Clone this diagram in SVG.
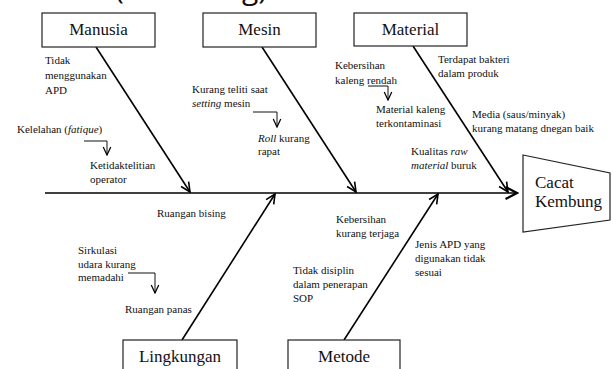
<svg xmlns="http://www.w3.org/2000/svg" width="613" height="369" viewBox="0 0 613 369">
<style>
.box{fill:#fff;stroke:#222;stroke-width:1.2}
.bl{font-size:17px;fill:#111}
.mid{text-anchor:middle}
.t{font-size:11px;fill:#111}
.bone{stroke:#000;stroke-width:1.6;fill:none}
.sm{stroke:#111;stroke-width:1;fill:none}
.serif{font-family:'Liberation Serif','Noto Serif','DejaVu Serif',Tinos,FreeSerif,'Times New Roman',Times,serif}
</style>
<defs>
<marker id="ah" markerUnits="userSpaceOnUse" viewBox="0 0 12 12" markerWidth="12" markerHeight="12" refX="10.5" refY="6" orient="auto">
<path d="M1,1.5 L10.5,6 L1,10.5" fill="none" stroke="#000" stroke-width="1.6"/>
</marker>
<marker id="ahs" markerUnits="userSpaceOnUse" viewBox="0 0 12 12" markerWidth="10" markerHeight="10" refX="10.5" refY="6" orient="auto">
<path d="M1,1.5 L10.5,6 L1,10.5" fill="none" stroke="#000" stroke-width="1.5"/>
</marker>
<marker id="ahb" markerUnits="userSpaceOnUse" viewBox="0 0 14 14" markerWidth="14" markerHeight="14" refX="12.5" refY="7" orient="auto">
<path d="M1,1 L12.5,7 L1,13" fill="none" stroke="#000" stroke-width="2.2"/>
</marker>
</defs>

<text x="115" y="-1" font-family="'Open Sans', sans-serif" font-size="30" fill="#111">(Kembung)</text>

<g id="connectors">
<line class="bone" x1="45" y1="193" x2="517" y2="193" stroke-width="2.4" marker-end="url(#ahb)"/>
<line class="bone" x1="96" y1="47" x2="190" y2="192" marker-end="url(#ah)"/>
<line class="bone" x1="262" y1="47" x2="356" y2="192" marker-end="url(#ah)"/>
<line class="bone" x1="413" y1="46" x2="508" y2="192" marker-end="url(#ah)"/>
<line class="bone" x1="182" y1="340" x2="275" y2="194" marker-end="url(#ah)"/>
<line class="bone" x1="344" y1="340" x2="438" y2="194" marker-end="url(#ah)"/>
<path class="sm" d="M84,141 H107 V155" marker-end="url(#ahs)"/>
<path class="sm" d="M253,112 H277 V127" marker-end="url(#ahs)"/>
<path class="sm" d="M368,86 H388 V100" marker-end="url(#ahs)"/>
<path class="sm" d="M128,273 H155 V293" marker-end="url(#ahs)"/>
</g>

<g class="serif">
<g id="manusia">
<rect class="box" x="42" y="13" width="113" height="34"/>
<text class="bl mid serif" x="98.5" y="35">Manusia</text>
</g>
<g id="mesin">
<rect class="box" x="203" y="13" width="113" height="34"/>
<text class="bl mid serif" x="259.5" y="35">Mesin</text>
</g>
<g id="material">
<rect class="box" x="354" y="13" width="113" height="33"/>
<text class="bl mid serif" x="410.5" y="35">Material</text>
</g>
<g id="lingkungan">
<rect class="box" x="123" y="340" width="114" height="36"/>
<text class="bl mid serif" x="180" y="362">Lingkungan</text>
</g>
<g id="metode">
<rect class="box" x="288" y="340" width="112" height="36"/>
<text class="bl mid serif" x="344" y="362">Metode</text>
</g>
<g id="cacat-kembung">
<path class="box" d="M523,155 L610,173 L610,220 L523,232 Z"/>
<text class="bl serif" x="535" y="188">Cacat</text>
<text class="bl serif" x="535" y="207">Kembung</text>
</g>

<g id="causes" class="serif">
<text class="t" x="45" y="64">Tidak</text>
<text class="t" x="45" y="79">menggunakan</text>
<text class="t" x="45" y="94">APD</text>
<text class="t" x="17" y="133">Kelelahan (<tspan font-style="italic">fatique</tspan>)</text>
<text class="t" x="90" y="169">Ketidaktelitian</text>
<text class="t" x="90" y="183">operator</text>
<text class="t" x="157" y="217">Ruangan bising</text>
<text class="t" x="192" y="93">Kurang teliti saat</text>
<text class="t" x="192" y="107"><tspan font-style="italic">setting</tspan> mesin</text>
<text class="t" x="258" y="142"><tspan font-style="italic">Roll</tspan> kurang</text>
<text class="t" x="258" y="155">rapat</text>
<text class="t" x="335" y="69">Kebersihan</text>
<text class="t" x="335" y="84">kaleng rendah</text>
<text class="t" x="376" y="113">Material kaleng</text>
<text class="t" x="376" y="127">terkontaminasi</text>
<text class="t" x="438" y="63">Terdapat bakteri</text>
<text class="t" x="438" y="77">dalam produk</text>
<text class="t" x="472" y="118">Media (saus/minyak)</text>
<text class="t" x="472" y="132">kurang matang dnegan baik</text>
<text class="t" x="411" y="155">Kualitas <tspan font-style="italic">raw</tspan></text>
<text class="t" x="411" y="169"><tspan font-style="italic">material</tspan> buruk</text>
<text class="t" x="336" y="223">Kebersihan</text>
<text class="t" x="336" y="237">kurang terjaga</text>
<text class="t" x="415" y="248">Jenis APD yang</text>
<text class="t" x="415" y="262">digunakan tidak</text>
<text class="t" x="415" y="276">sesuai</text>
<text class="t" x="293" y="274">Tidak disiplin</text>
<text class="t" x="293" y="288">dalam penerapan</text>
<text class="t" x="293" y="302">SOP</text>
<text class="t" x="78" y="254">Sirkulasi</text>
<text class="t" x="78" y="268">udara kurang</text>
<text class="t" x="78" y="281">memadahi</text>
<text class="t" x="125" y="313">Ruangan panas</text>
</g>
</g>
</svg>
